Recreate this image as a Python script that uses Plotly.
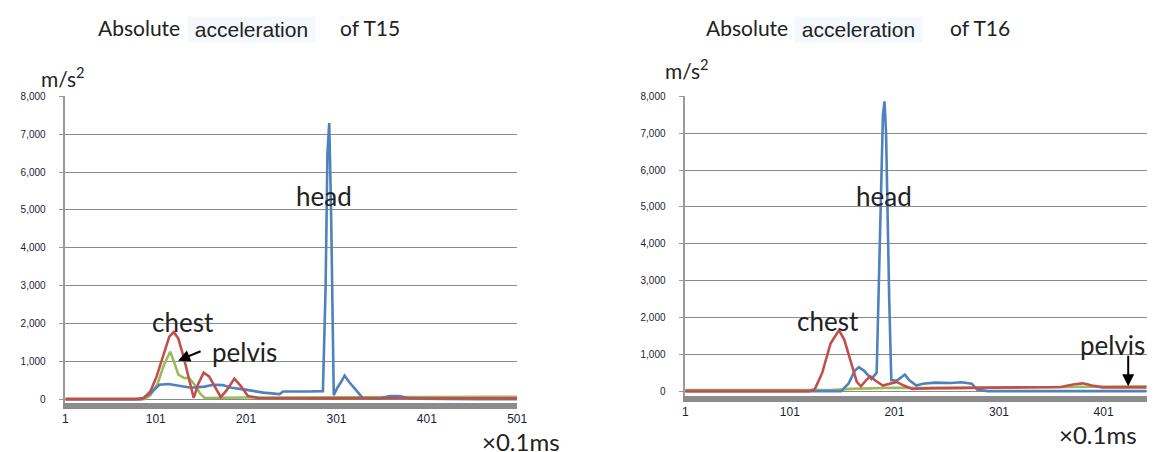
import plotly.graph_objects as go

# ---------------- data ----------------
# T15 (left)
head15_x = [1, 85, 95, 105, 115, 125, 140, 155, 165, 175, 185, 200, 220, 238, 242, 270, 286, 289, 291, 293, 295, 298, 302, 306, 310, 315, 322, 330, 350, 360, 370, 380, 390, 420, 460, 501]
head15_y = [0, 0, 150, 380, 400, 360, 300, 330, 380, 370, 300, 250, 170, 130, 200, 200, 210, 3000, 6500, 7300, 5000, 100, 300, 450, 620, 450, 250, 30, 20, 80, 80, 30, 10, 0, 0, 0]
chest15_x = [1, 80, 88, 95, 102, 110, 116, 121, 126, 132, 138, 143, 148, 154, 160, 167, 173, 180, 188, 195, 203, 215, 240, 280, 300, 360, 420, 501]
chest15_y = [0, 0, 30, 200, 600, 1200, 1650, 1770, 1600, 1100, 500, 30, 400, 700, 600, 300, 50, 250, 540, 350, 80, 30, 20, 20, 20, 30, 20, 20]
pelvis15_x = [1, 88, 95, 103, 110, 117, 121, 126, 132, 138, 145, 150, 155, 165, 200, 300, 400, 501]
pelvis15_y = [0, 0, 100, 400, 900, 1250, 1000, 650, 560, 550, 350, 150, 30, 30, 40, 50, 60, 60]

# T16 (right)
head16_x = [1, 150, 157, 163, 167, 172, 179, 184, 187, 190, 191.5, 193, 196, 198, 203, 208, 211, 215, 222, 228, 240, 255, 265, 275, 280, 290, 350, 442]
head16_y = [0, 0, 200, 550, 650, 550, 330, 500, 4000, 7500, 7870, 7000, 2500, 300, 280, 380, 450, 300, 150, 200, 230, 220, 240, 200, 40, 0, 0, 0]
chest16_x = [1, 120, 125, 132, 140, 148, 153, 160, 165, 169, 174, 178, 183, 190, 197, 203, 210, 218, 240, 300, 360, 372, 381, 390, 400, 442]
chest16_y = [0, 0, 60, 500, 1300, 1650, 1400, 700, 250, 130, 300, 400, 280, 150, 200, 250, 150, 60, 80, 100, 110, 180, 210, 150, 100, 100]
pelvis16_x = [1, 140, 160, 200, 250, 300, 350, 390, 400, 442]
pelvis16_y = [30, 30, 60, 90, 80, 90, 100, 120, 130, 130]

y_ticks = [0, 1000, 2000, 3000, 4000, 5000, 6000, 7000, 8000]
x_ticks_left = [1, 101, 201, 301, 401, 501]
x_ticks_right = [1, 101, 201, 301, 401]

BLUE = "#4F81BD"
RED = "#C0504D"
GREEN = "#9BBB59"

OFF = 8  # page body margin
W, H = 1157 - OFF, 452 - OFF

def px(v):  # window pixel -> paper
    return (v - OFF) / W

def py(v):
    return 1 - (v - OFF) / H

fig = go.Figure()

def add(x, y, color, xa, ya):
    fig.add_trace(go.Scatter(x=x, y=y, mode="lines", line=dict(color=color, width=2.6),
                             xaxis=xa, yaxis=ya, showlegend=False, hoverinfo="skip"))

add(pelvis15_x, pelvis15_y, GREEN, "x", "y")
add(head15_x, head15_y, BLUE, "x", "y")
add(chest15_x, chest15_y, RED, "x", "y")
add(pelvis16_x, pelvis16_y, GREEN, "x2", "y2")
add(head16_x, head16_y, BLUE, "x2", "y2")
add(chest16_x, chest16_y, RED, "x2", "y2")

tickfont_y = dict(family="Liberation Sans", size=10, color="#1c1c34")
tickfont_x = dict(family="Liberation Sans", size=12, color="#1c1c34")

xcommon = dict(showgrid=False, zeroline=False, showline=True, linecolor="#8c8c8c", linewidth=6,
               ticks="", tickfont=tickfont_x, fixedrange=True)
ycommon = dict(showgrid=True, gridcolor="#8a8a8a", gridwidth=1.3, zeroline=False, showline=True,
               linecolor="#999999", linewidth=1.5, ticks="outside", ticklen=5, tickcolor="#999999",
               ticklabelstandoff=11,
               tickvals=y_ticks, tickformat=",", tickfont=tickfont_y, fixedrange=True)

fig.update_layout(
    width=W, height=H, margin=dict(l=0, r=0, t=0, b=0),
    paper_bgcolor="white", plot_bgcolor="white",
    xaxis=dict(domain=[px(63), px(520)], range=[1, 501], tickvals=x_ticks_left, anchor="y", **xcommon),
    yaxis=dict(domain=[py(404), py(92)], range=[-100, 8000], anchor="x", **ycommon),
    xaxis2=dict(domain=[px(690), 1.0], range=[1, 442.5], tickvals=x_ticks_right, anchor="y2", **xcommon),
    yaxis2=dict(domain=[py(396.5), py(92)], range=[-120, 8000], anchor="x2", **ycommon),
)

TF = "Lato"
ann = []

def text(x, y, s, size, xanchor="left", bg=None, color="#222222", family=TF):
    d = dict(x=px(x), y=py(y), xref="paper", yref="paper", text=s, showarrow=False,
             xanchor=xanchor, yanchor="middle", font=dict(family=family, size=size, color=color))
    if bg:
        d["bgcolor"] = bg
    ann.append(d)

# titles
text(94, 22, "Absolute", 21)
text(186, 24, "\u00a0acceleration\u00a0", 21, bg="#f5f8fc", family="Liberation Sans")
text(339, 22, "of T15", 21)
text(709, 22, "Absolute", 21)
text(800, 24, "\u00a0acceleration\u00a0", 21, bg="#f5f8fc", family="Liberation Sans")
text(956, 22, "of T16", 21)

# units
text(36, 72, "m/s<sup>2</sup>", 21)
text(667, 64, "m/s<sup>2</sup>", 21)
text(482, 443, "\u00d70.1ms", 24)
text(1066, 436, "\u00d70.1ms", 24)

# labels
text(294, 193, "head", 26)
text(149, 322, "chest", 26)
text(209, 352, "pelvis", 26)
text(861, 193, "head", 26)
text(801, 321, "chest", 26)
text(1087, 345, "pelvis", 26)

# arrows
ann.append(dict(x=px(177), y=py(361), ax=24, ay=-10, xref="paper", yref="paper",
                axref="pixel", ayref="pixel", showarrow=True, arrowhead=2, arrowsize=1.2,
                arrowwidth=2, arrowcolor="black", text=""))
ann.append(dict(x=px(1138), y=py(387), ax=0, ay=-32, xref="paper", yref="paper",
                axref="pixel", ayref="pixel", showarrow=True, arrowhead=2, arrowsize=1.2,
                arrowwidth=2, arrowcolor="black", text=""))

fig.update_layout(annotations=ann)
fig.write_html("out.html")
